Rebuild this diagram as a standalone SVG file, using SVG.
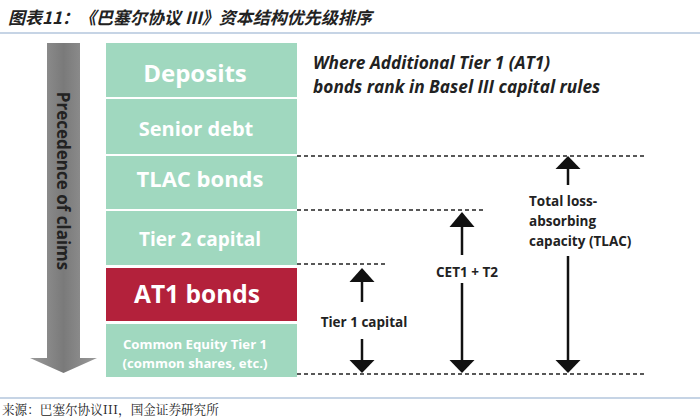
<svg xmlns="http://www.w3.org/2000/svg" width="700" height="420" viewBox="0 0 700 420">
<defs>
<style>
.box{fill:#a0d8bf}
.lbl{font-family:"Open Sans","Liberation Sans",sans-serif;font-weight:bold;fill:#fff;text-anchor:middle}
.dash{stroke:#222;stroke-width:1.6;stroke-dasharray:4 3;fill:none}
.shaft{stroke:#111;stroke-width:2.5}
.head{fill:#111}
.ann{font-family:"Open Sans","Liberation Sans",sans-serif;font-weight:bold;font-size:13.5px;fill:#222}
</style>
<linearGradient id="gArrow" x1="0" x2="1" y1="0" y2="0">
<stop offset="0" stop-color="#9a9a9a"/>
<stop offset="0.5" stop-color="#7a7a7a"/>
<stop offset="1" stop-color="#9a9a9a"/>
</linearGradient>
</defs>
<rect width="700" height="420" fill="#fff"/>
<text x="8" y="24" font-family="'Noto Sans CJK SC',sans-serif" font-size="17" font-weight="bold" font-style="italic" fill="#222">图表11：《巴塞尔协议 III》资本结构优先级排序</text>
<line x1="0" y1="33" x2="700" y2="33" stroke="#8eaacc" stroke-width="1.2"/>

<g id="precedence">
<polygon points="47,43 80,43 80,358 97,358 63.5,373 30,358 47,358" fill="url(#gArrow)"/>
<text transform="translate(57,181) rotate(90)" text-anchor="middle" font-family="'Open Sans','Liberation Sans',sans-serif" font-weight="bold" font-size="17" fill="#222">Precedence of claims</text>
</g>

<g id="deposits"><rect class="box" x="106" y="43" width="191" height="54"/><text class="lbl" x="195" y="82" font-size="24">Deposits</text></g>
<g id="senior"><rect class="box" x="106" y="99" width="191" height="55"/><text class="lbl" x="196" y="136" font-size="20">Senior debt</text></g>
<g id="tlac"><rect class="box" x="106" y="156" width="191" height="53"/><text class="lbl" x="200" y="187" font-size="22">TLAC bonds</text></g>
<g id="tier2"><rect class="box" x="106" y="211" width="191" height="54"/><text class="lbl" x="200" y="246" font-size="19">Tier 2 capital</text></g>
<g id="at1"><rect x="106" y="268" width="191" height="53" fill="#b3213b"/><text class="lbl" x="197" y="303" font-size="24.5">AT1 bonds</text></g>
<g id="cet1"><rect class="box" x="106" y="324" width="191" height="53"/><text class="lbl" x="195" y="349" font-size="13.2">Common Equity Tier 1</text><text class="lbl" x="195" y="368" font-size="13.2">(common shares, etc.)</text></g>

<g id="heading">
<text font-family="'Open Sans','Liberation Sans',sans-serif" font-weight="bold" font-style="italic" font-size="17.3" fill="#222"><tspan x="313" y="69">Where Additional Tier 1 (AT1)</tspan><tspan x="313" y="93">bonds rank in Basel III capital rules</tspan></text>
</g>

<g id="connectors">
<line class="dash" x1="297" y1="156" x2="645" y2="156"/>
<line class="dash" x1="297" y1="210" x2="485" y2="210"/>
<line class="dash" x1="297" y1="264" x2="385" y2="264"/>
<line class="dash" x1="297" y1="374" x2="645" y2="374"/>
<!-- Tier 1 -->
<line class="shaft" x1="362" y1="281" x2="362" y2="302"/>
<polygon class="head" points="362,268 374.5,282 349.5,282"/>
<line class="shaft" x1="362" y1="339" x2="362" y2="362"/>
<polygon class="head" points="362,373 374.5,360 349.5,360"/>
<!-- CET1 + T2 -->
<line class="shaft" x1="462" y1="226" x2="462" y2="255"/>
<polygon class="head" points="462,212 474.5,227 449.5,227"/>
<line class="shaft" x1="462" y1="283" x2="462" y2="362"/>
<polygon class="head" points="462,373 474.5,360 449.5,360"/>
<!-- TLAC -->
<line class="shaft" x1="568" y1="167" x2="568" y2="185"/>
<polygon class="head" points="568,156 580.5,169 555.5,169"/>
<line class="shaft" x1="568" y1="256" x2="568" y2="362"/>
<polygon class="head" points="568,373 580.5,360 555.5,360"/>
</g>

<g id="labels">
<text class="ann" x="364" y="327" text-anchor="middle">Tier 1 capital</text>
<text class="ann" x="467" y="277" text-anchor="middle" font-size="14.5">CET1 + T2</text>
<text class="ann"><tspan x="529" y="206">Total loss-</tspan><tspan x="529" y="226">absorbing</tspan><tspan x="529" y="246">capacity (TLAC)</tspan></text>
</g>

<line x1="0" y1="398" x2="700" y2="398" stroke="#8eaacc" stroke-width="1.2"/>
<text x="2" y="414" font-family="'Noto Serif CJK SC','Noto Sans CJK SC',serif" font-size="12.6" fill="#222">来源：巴塞尔协议III，国金证券研究所</text>
</svg>
